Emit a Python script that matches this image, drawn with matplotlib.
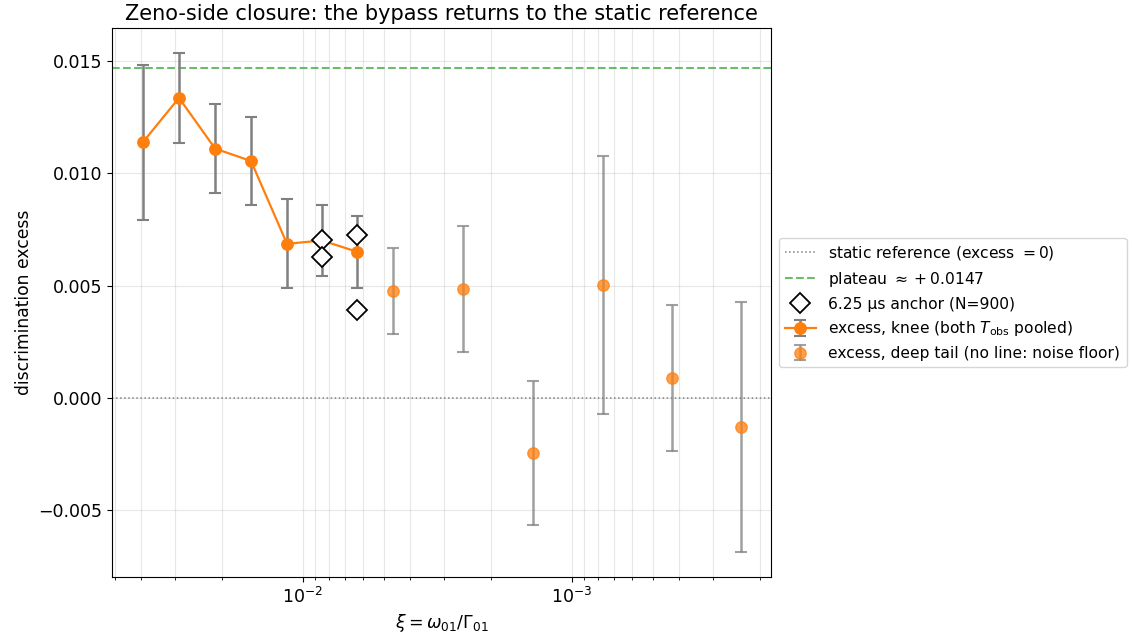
import numpy as np
import matplotlib
matplotlib.use("Agg")
import matplotlib.pyplot as plt

# knee region (both T_obs pooled)
xi_knee = [0.0394, 0.0289, 0.0212, 0.0156, 0.01146, 0.0085, 0.0063]
exc_knee = [0.01138, 0.01336, 0.01110, 0.01055, 0.00686, 0.00701, 0.00651]
err_knee = [0.00345, 0.00199, 0.00199, 0.00198, 0.00198, 0.00160, 0.00160]

# deep tail (noise floor)
xi_tail = [0.00463, 0.00254, 0.00140, 0.000767, 0.000425, 0.000235]
exc_tail = [0.00476, 0.00485, -0.00245, 0.00503, 0.00089, -0.00129]
err_tail = [0.00190, 0.00282, 0.00322, 0.00576, 0.00324, 0.00557]

# 6.25 us anchor runs (N=900)
xi_anchor = [0.0085, 0.0085, 0.0063, 0.0063]
exc_anchor = [0.00703, 0.00628, 0.00726, 0.00392]

plateau = 0.0147

fig, ax = plt.subplots(figsize=(11.32, 6.38), dpi=100)
fig.subplots_adjust(left=0.0989, right=0.681, top=0.956, bottom=0.0956)

ax.axhline(0.0, color="gray", ls=":", lw=1.1, label="static reference (excess $=0$)")
ax.axhline(plateau, color="tab:green", ls="--", lw=1.5, alpha=0.7,
           label=r"plateau $\approx +0.0147$")
ax.plot(xi_anchor, exc_anchor, ls="none", marker="D", ms=10, mfc="white",
        mec="black", mew=1.3, zorder=5, label="6.25 µs anchor (N=900)")
ax.errorbar(xi_knee, exc_knee, yerr=err_knee, fmt="-o", color="C1", ms=8.2,
            lw=1.6, ecolor="gray", elinewidth=1.8, capsize=4, capthick=1.5,
            zorder=4, label=r"excess, knee (both $T_{\rm obs}$ pooled)")
ax.errorbar(xi_tail, exc_tail, yerr=err_tail, fmt="o", color="C1", ms=8.2,
            alpha=0.75, ecolor="gray", elinewidth=1.8, capsize=4, capthick=1.5,
            zorder=3, label="excess, deep tail (no line: noise floor)")

ax.set_xscale("log")
ax.set_xlim(0.0513, 1.82e-4)
ax.set_ylim(-0.00798, 0.01647)
ax.grid(True, which="both", alpha=0.3)
ax.tick_params(labelsize=12.5)

ax.set_xlabel(r"$\xi = \omega_{01}/\Gamma_{01}$", fontsize=12.5)
ax.set_ylabel("discrimination excess", fontsize=12.3)
ax.set_title("Zeno-side closure: the bypass returns to the static reference", fontsize=15)

ax.legend(loc="center left", bbox_to_anchor=(1.0, 0.5), fontsize=11.2)

fig.savefig("out.png", dpi=100)
